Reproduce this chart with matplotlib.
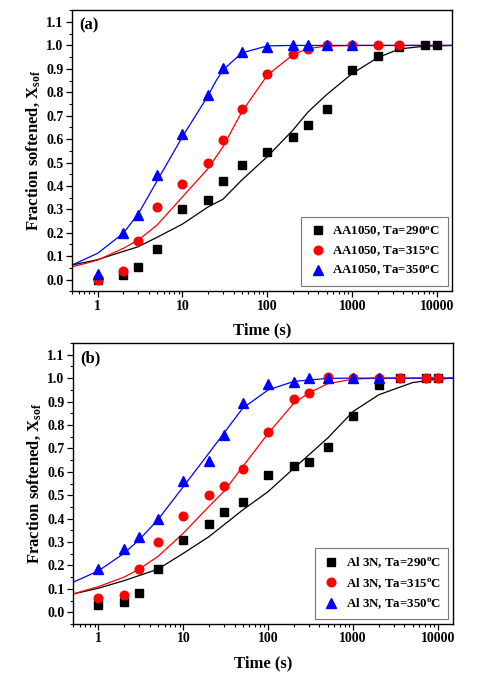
import numpy as np
import matplotlib
matplotlib.use("Agg")
import matplotlib.pyplot as plt
from matplotlib.ticker import MultipleLocator, LogLocator, NullFormatter, FixedLocator

plt.rcParams['font.family'] = ['Liberation Serif', 'DejaVu Serif']
plt.rcParams['font.weight'] = 'bold'
plt.rcParams['mathtext.fontset'] = 'custom'
plt.rcParams['mathtext.rm'] = 'Liberation Serif:bold'
plt.rcParams['mathtext.it'] = 'Liberation Serif:bold'
plt.rcParams['mathtext.bf'] = 'Liberation Serif:bold'

# ---- measured times (s)
t_pts = [1, 2, 3, 5, 10, 20, 30, 50, 100, 200, 300, 500, 1000, 2000, 3600, 7200, 10000]

# ---- panel (a): AA1050
a_290 = [0.0, 0.02, 0.054, 0.13, 0.30, 0.34, 0.42, 0.49, 0.545, 0.61, 0.66, 0.73, 0.895, 0.955, 0.995, 1.0, 1.0]
a_315 = [0.0, 0.035, 0.165, 0.31, 0.41, 0.496, 0.595, 0.727, 0.88, 0.963, 0.986, 1.0, 1.0, 1.0, 1.0]
a_350 = [0.025, 0.20, 0.276, 0.445, 0.62, 0.79, 0.905, 0.97, 0.993, 1.0, 1.0, 1.0, 1.0]

# fitted curves (a)
fa_t_290 = [0.5, 1, 2, 3, 5, 10, 20, 30, 50, 100, 200, 300, 500, 1000, 2000, 3600, 7200, 15000]
fa_290 = [0.062, 0.085, 0.12, 0.14, 0.18, 0.237, 0.31, 0.343, 0.425, 0.525, 0.638, 0.715, 0.79, 0.88, 0.948, 0.985, 0.997, 1.0]
fa_t_315 = [0.5, 1, 2, 3, 5, 10, 20, 30, 50, 100, 200, 300, 500, 1000, 15000]
fa_315 = [0.054, 0.083, 0.133, 0.168, 0.232, 0.353, 0.474, 0.567, 0.716, 0.873, 0.96, 0.987, 0.997, 1.0, 1.0]
fa_t_350 = [0.5, 1, 2, 3, 5, 10, 20, 25, 30, 50, 100, 200, 15000]
fa_350 = [0.062, 0.112, 0.197, 0.279, 0.42, 0.61, 0.785, 0.85, 0.895, 0.968, 0.998, 1.0, 1.0]

# ---- panel (b): Al 3N
b_290 = [0.031, 0.046, 0.081, 0.187, 0.309, 0.379, 0.429, 0.47, 0.587, 0.625, 0.642, 0.705, 0.838, 0.969, 1.0, 1.0, 1.0]
b_315 = [0.06, 0.074, 0.187, 0.302, 0.413, 0.501, 0.541, 0.613, 0.768, 0.91, 0.936, 1.004, 1.0, 1.0, 1.0, 1.0, 1.0]
b_350 = [0.185, 0.27, 0.32, 0.40, 0.56, 0.645, 0.757, 0.895, 0.974, 0.983, 1.0, 1.0, 1.0, 1.0]

fb_t_290 = [0.5, 1, 2, 5, 10, 20, 50, 100, 200, 500, 1000, 2000, 5000, 10000, 15000]
fb_290 = [0.078, 0.103, 0.135, 0.184, 0.252, 0.323, 0.437, 0.516, 0.615, 0.744, 0.858, 0.929, 0.981, 0.996, 1.0]
fb_t_315 = [0.5, 1, 2, 3, 5, 10, 20, 30, 50, 100, 200, 300, 500, 1000, 2000, 15000]
fb_315 = [0.078, 0.11, 0.15, 0.184, 0.238, 0.338, 0.452, 0.516, 0.622, 0.765, 0.893, 0.936, 0.976, 0.996, 1.0, 1.0]
fb_t_350 = [0.5, 1, 2, 3, 5, 10, 20, 30, 50, 100, 200, 500, 1000, 15000]
fb_350 = [0.128, 0.177, 0.252, 0.309, 0.395, 0.537, 0.68, 0.765, 0.872, 0.95, 0.986, 0.999, 1.0, 1.0]

temps = ["290", "315", "350"]
colors = ["black", "red", "blue"]
markers = ["s", "o", "^"]
msizes = [5.8, 6.2, 6.8]


def draw_panel(ax, pts, fits, name, tag):
    for (ft, fy), c in zip(fits, colors):
        ax.plot(ft, fy, color=c, lw=0.9, zorder=2)
    for y, c, m, ms, T in zip(pts, colors, markers, msizes, temps):
        ax.plot(t_pts[:len(y)], y, ls="none", marker=m, ms=ms, color=c,
                label=name + ", Ta=" + T + r"$^{\rm o}$C", zorder=3)
    ax.set_xscale("log")
    ax.set_xlim(0.5, 15000)
    ax.set_ylim(-0.05, 1.15)
    ax.xaxis.set_major_locator(FixedLocator([1, 10, 100, 1000, 10000]))
    ax.set_xticklabels(["1", "10", "100", "1000", "10000"])
    ax.xaxis.set_minor_locator(LogLocator(base=10, subs=np.arange(2, 10), numticks=20))
    ax.xaxis.set_minor_formatter(NullFormatter())
    ax.yaxis.set_major_locator(MultipleLocator(0.1))
    ax.yaxis.set_minor_locator(MultipleLocator(0.05))
    ax.set_yticks(np.round(np.arange(0, 1.11, 0.1), 1))
    ax.set_yticklabels(["%.1f" % v for v in np.arange(0, 1.11, 0.1)])
    ax.tick_params(which="major", direction="out", length=4, width=0.9, labelsize=10, pad=2)
    ax.tick_params(which="minor", direction="out", length=2.2, width=0.8)
    ax.tick_params(top=False, right=False, which="both")
    for s in ax.spines.values():
        s.set_linewidth(1.0)
    ax.set_xlabel("Time (s)", fontsize=12, fontweight="bold", labelpad=7)
    ax.set_ylabel(r"Fraction softened, X$_{\rm sof}$", fontsize=12, fontweight="bold", labelpad=3)
    ax.text(0.02, 0.975, tag, transform=ax.transAxes, fontsize=12, fontweight="bold",
            va="top", ha="left")
    leg = ax.legend(loc="lower right", bbox_to_anchor=(0.988, 0.018), borderaxespad=0,
                    fontsize=9.3, frameon=True, fancybox=False, handletextpad=0.4,
                    handlelength=1.4, borderpad=0.6, labelspacing=0.45)
    leg.get_frame().set_edgecolor("#555555")
    leg.get_frame().set_linewidth(0.8)


fig = plt.figure(figsize=(4.83, 6.87), dpi=100)
ax1 = fig.add_axes([0.149, 0.576, 0.787, 0.409])
ax2 = fig.add_axes([0.151, 0.0917, 0.787, 0.409])

draw_panel(ax1, [a_290, a_315, a_350],
           [(fa_t_290, fa_290), (fa_t_315, fa_315), (fa_t_350, fa_350)], "AA1050", "(a)")
draw_panel(ax2, [b_290, b_315, b_350],
           [(fb_t_290, fb_290), (fb_t_315, fb_315), (fb_t_350, fb_350)], "Al 3N", "(b)")

plt.savefig("out.png", dpi=100)
